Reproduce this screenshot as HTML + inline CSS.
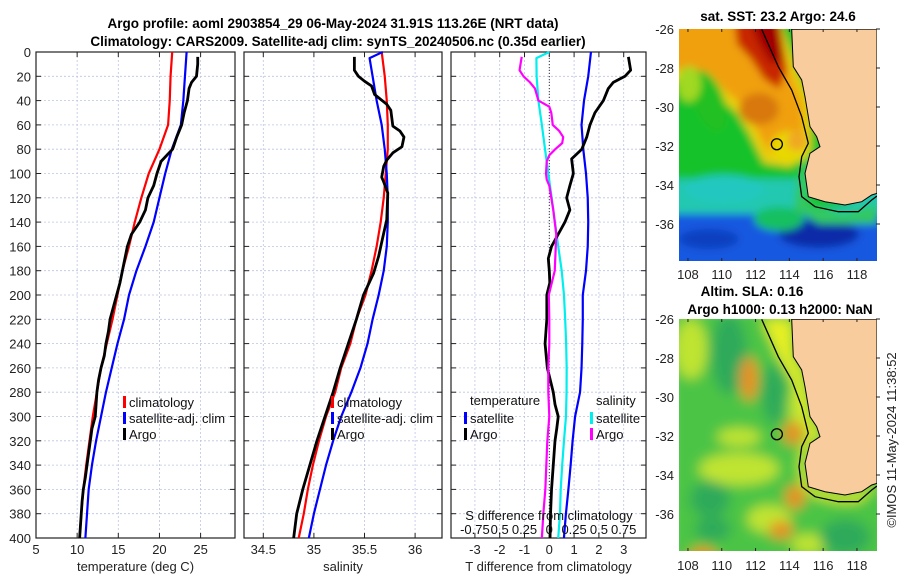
<!DOCTYPE html>
<html><head><meta charset="utf-8">
<style>
html,body{margin:0;padding:0;background:#fff;}
svg{display:block;font-family:"Liberation Sans",sans-serif;}
</style></head>
<body>
<svg id="chart" width="900" height="580" viewBox="0 0 900 580" xmlns="http://www.w3.org/2000/svg">
<defs>
  <filter id="blur4" x="-10%" y="-10%" width="120%" height="120%"><feGaussianBlur stdDeviation="4"/></filter>
  <filter id="blur6" x="-10%" y="-10%" width="120%" height="120%"><feGaussianBlur stdDeviation="6"/></filter>
  <clipPath id="clipMap1"><rect x="679" y="29" width="198" height="232"/></clipPath>
  <clipPath id="clipMap2"><rect x="679" y="319" width="198" height="232"/></clipPath>
</defs>
<g id="titles">
  <text x="333" y="28" text-anchor="middle" font-size="13.5" font-weight="bold" fill="#000">Argo profile: aoml 2903854_29 06-May-2024 31.91S 113.26E (NRT data)</text>
  <text x="338" y="46" text-anchor="middle" font-size="13.5" font-weight="bold" fill="#000">Climatology: CARS2009. Satellite-adj clim: synTS_20240506.nc (0.35d earlier)</text>
</g>
<g id="maps"></g>
<g id="panels"></g>
<text transform="translate(896,440) rotate(-90)" text-anchor="middle" font-size="13" fill="#222">©IMOS 11-May-2024 11:38:52</text>
</svg>
<script>
// ---------- data ----------
const stdDepth = [0,20,40,60,80,100,120,140,160,180,200,220,240,260,280,300,320,340,360,380,400];
const tempClim = [21.55,21.35,21.25,21.05,20.0,18.7,17.8,17.0,16.3,15.5,14.9,14.3,13.6,12.9,12.4,11.9,11.5,11.1,10.75,10.5,10.3];
const tempSat = [23.3,23.1,22.9,22.6,21.5,20.7,20.0,19.3,18.3,17.2,16.3,15.7,14.9,14.2,13.5,12.9,12.3,11.8,11.4,11.2,11.0];
const argoTDepth = [4,10,20,25,30,40,50,60,70,80,85,90,100,110,120,130,140,150,160,170,180,190,200,210,220,230,240,250,260,270,280,290,300,310,320,330,340,350,360,370,380,390,400];
const argoTemp = [24.65,24.65,24.5,23.9,23.6,23.4,23.0,22.7,22.1,21.6,20.9,20.2,19.7,19.3,18.6,18.3,17.6,16.6,16.1,15.8,15.5,15.2,14.8,14.4,14.0,13.8,13.5,13.3,12.9,12.6,12.4,12.3,12.2,11.8,11.6,11.4,11.2,11.0,10.75,10.6,10.5,10.4,10.3];
const salClim = [35.67,35.70,35.72,35.73,35.73,35.71,35.69,35.66,35.62,35.57,35.51,35.42,35.36,35.27,35.21,35.12,35.05,34.99,34.94,34.90,34.85];
const satDepth = [0,5,20,40,60,80,100,120,140,160,180,200,220,240,260,280,300,320,340,360,380,400];
const salSat = [35.68,35.55,35.58,35.62,35.67,35.70,35.72,35.73,35.73,35.72,35.69,35.64,35.58,35.53,35.46,35.37,35.27,35.19,35.12,35.06,35.00,34.95];
const argoSDepth = [4,15,20,24,28,35,43,48,61,65,70,78,83,89,94,103,107,116,138,149,168,182,200,220,240,260,280,300,320,340,360,380,400];
const argoSal = [35.40,35.40,35.44,35.50,35.57,35.60,35.72,35.76,35.78,35.85,35.89,35.87,35.78,35.72,35.69,35.67,35.69,35.73,35.72,35.69,35.64,35.59,35.49,35.42,35.34,35.26,35.19,35.11,35.03,34.96,34.89,34.83,34.80];
const dTSat = [1.68,1.57,1.40,1.30,1.37,1.48,1.55,1.57,1.55,1.48,1.35,1.35,1.33,1.30,1.24,1.04,0.94,0.86,0.77,0.67,0.59];
const dSSat = [0.0,-0.13,-0.128,-0.11,-0.075,-0.043,-0.01,0.024,0.057,0.09,0.125,0.148,0.16,0.17,0.175,0.174,0.168,0.148,0.13,0.115,0.108,0.09];
const dTArgoDepth = [4,15,20,25,30,40,50,60,70,80,88,100,110,120,130,140,150,160,170,180,190,200,220,240,260,280,290,300,310,320,340,360,380,400];
const dTArgo = [3.19,3.28,3.05,2.58,2.38,2.18,1.84,1.64,1.51,1.31,0.90,0.97,0.83,0.70,0.83,0.63,0.36,0.09,-0.04,0.0,0.02,-0.10,-0.10,-0.17,-0.08,0.16,0.23,0.36,0.30,0.23,0.16,0.09,0.05,0.03];
const dSArgoDepth = [4,15,20,25,30,40,45,50,60,65,70,75,80,85,90,100,105,110,130,150,160,180,200,220,240,260,280,300,320,340,360,380,400];
const dSArgo = [-0.278,-0.30,-0.26,-0.195,-0.145,-0.11,0.0,0.02,0.035,0.10,0.14,0.13,0.06,0.0,-0.026,-0.033,-0.026,0.0,0.04,0.07,0.065,0.055,-0.005,0.0,0.0,-0.01,-0.01,0.0,-0.02,-0.03,-0.04,-0.06,-0.075];
const depthTicks = [0,20,40,60,80,100,120,140,160,180,200,220,240,260,280,300,320,340,360,380,400];
const tempTicks = [5,10,15,20,25];
const salTicks = [34.5,35,35.5,36];
const salTickLabels = ["34.5","35","35.5","36"];
const dTTicks = [-3,-2,-1,0,1,2,3];
const dSTicks = [-0.75,-0.5,-0.25,0,0.25,0.5,0.75];
const dSTickLabels = ["-0.75","0.5","0.25","0","0.25","0.5","0.75"];
const lonTicks = [108,110,112,114,116,118];
const latTicks = [-26,-28,-30,-32,-34,-36];
const argoLon = 113.26, argoLat = -31.91;

// ---------- helpers ----------
const NS = "http://www.w3.org/2000/svg";
function mk(tag, attrs, parent){ const e=document.createElementNS(NS,tag); for(const k in attrs) e.setAttribute(k,attrs[k]); if(parent) parent.appendChild(e); return e; }
const Y0=52, Y1=538;
const yD = d => Y0 + (d/400)*(Y1-Y0);
const panelsG = document.getElementById('panels');

function panel(name, x0, x1, xScale, xTicks, xLabels, xTitle, showY){
  const g = mk('g',{},panelsG);
  
  
  xTicks.forEach(v=>{ const x=xScale(v);
    const l=mk('line',{x1:x,x2:x,y1:Y0,y2:Y1,stroke:'#bcc4e4','stroke-width':0.8,'stroke-dasharray':'2,2'},g);
     
    mk('line',{x1:x,x2:x,y1:Y0,y2:Y0+5,stroke:'#222','stroke-width':1},g);
    mk('line',{x1:x,x2:x,y1:Y1,y2:Y1-5,stroke:'#222','stroke-width':1},g);
  });
  depthTicks.forEach(d=>{ const y=yD(d);
    const l=mk('line',{x1:x0,x2:x1,y1:y,y2:y,stroke:'#bcc4e4','stroke-width':0.8,'stroke-dasharray':'2,2'},g);
     
    mk('line',{x1:x0,x2:x0+5,y1:y,y2:y,stroke:'#222','stroke-width':1},g);
    mk('line',{x1:x1,x2:x1-5,y1:y,y2:y,stroke:'#222','stroke-width':1},g);
    if(showY){ const t=mk('text',{x:x0-5,y:y+5,'text-anchor':'end','font-size':13,fill:'#222'},g); t.textContent=d;
        }
  });
  xTicks.forEach((v,i)=>{ const t=mk('text',{x:xScale(v),y:554,'text-anchor':'middle','font-size':13,fill:'#222'},g); t.textContent=xLabels[i];
      });
  const tt=mk('text',{x:(x0+x1)/2,y:571,'text-anchor':'middle','font-size':13,fill:'#222'},g); tt.textContent=xTitle;
   
  const fr=mk('rect',{x:x0,y:Y0,width:x1-x0,height:Y1-Y0,fill:'none',stroke:'#222','stroke-width':1.2},g);
   
  return g;
}
function line(g, name, depths, vals, xScale, color, w){
  const d = depths.map((dd,i)=>(i?'L':'M')+xScale(vals[i]).toFixed(2)+','+yD(dd).toFixed(2)).join(' ');
  const p = mk('path',{d:d,fill:'none',stroke:color,'stroke-width':w,'stroke-linejoin':'round'},g);
  
  
  return p;
}
function legendEntry(g, name, x, y, color, label){
  const grp = mk('g',{},g);
  
  
  mk('rect',{x:x,y:y-6,width:3,height:12,fill:color},grp);
  const t=mk('text',{x:x+6,y:y+5,'font-size':13,fill:'#111'},grp); t.textContent=label;
}

const xT = v => 36 + (v-5)*8.23;
const p1 = panel('temperature-panel', 36, 235, xT, tempTicks, tempTicks.map(String), 'temperature (deg C)', true);
line(p1,'temp-climatology-line',stdDepth,tempClim,xT,'#ff0000',2.2);
line(p1,'temp-satellite-clim-line',stdDepth,tempSat,xT,'#0000ff',2.2);
line(p1,'temp-argo-line',argoTDepth,argoTemp,xT,'#000000',2.8);
legendEntry(p1,'legend-climatology',123,402,'#ff0000','climatology');
legendEntry(p1,'legend-satellite-adj-clim',123,418,'#0000ff','satellite-adj. clim');
legendEntry(p1,'legend-argo',123,434,'#000000','Argo');

const xS = v => 263.3 + (v-34.5)*101.2;
const p2 = panel('salinity-panel', 244, 442, xS, salTicks, salTickLabels, 'salinity', false);
line(p2,'sal-climatology-line',stdDepth,salClim,xS,'#ff0000',2.2);
line(p2,'sal-satellite-clim-line',satDepth,salSat,xS,'#0000ff',2.2);
line(p2,'sal-argo-line',argoSDepth,argoSal,xS,'#000000',2.8);
legendEntry(p2,'legend-climatology',331,402,'#ff0000','climatology');
legendEntry(p2,'legend-satellite-adj-clim',331,418,'#0000ff','satellite-adj. clim');
legendEntry(p2,'legend-argo',331,434,'#000000','Argo');

const xDT = v => 549.3 + v*24.8;
const xDS = v => 549.3 + v*99.2;
const p3 = panel('difference-panel', 451, 646, xDT, dTTicks, dTTicks.map(String), 'T difference from climatology', false);
const zl = mk('line',{x1:xDT(0),x2:xDT(0),y1:Y0,y2:Y1,stroke:'#333','stroke-width':1,'stroke-dasharray':'1,2'},p3);
 
line(p3,'dT-satellite-line',stdDepth,dTSat,xDT,'#0000ff',2.2);
line(p3,'dS-satellite-line',satDepth,dSSat,xDS,'#00eeee',2.2);
line(p3,'dT-argo-line',dTArgoDepth,dTArgo,xDT,'#000000',2.8);
line(p3,'dS-argo-line',dSArgoDepth,dSArgo,xDS,'#ff00ff',2.2);
(function(){
  let t=mk('text',{x:470,y:405,'font-size':13,fill:'#111'},p3); t.textContent='temperature';
   
  t=mk('text',{x:596,y:405,'font-size':13,fill:'#111'},p3); t.textContent='salinity';
   
})();
legendEntry(p3,'legend-t-satellite',464,418,'#0000ff','satellite');
legendEntry(p3,'legend-t-argo',464,434,'#000000','Argo');
legendEntry(p3,'legend-s-satellite',590,418,'#00eeee','satellite');
legendEntry(p3,'legend-s-argo',590,434,'#ff00ff','Argo');
(function(){
  const t=mk('text',{x:549,y:520,'text-anchor':'middle','font-size':13,fill:'#111'},p3); t.textContent='S difference from climatology';
   
  dSTicks.forEach((v,i)=>{ const tl=mk('text',{x:xDS(v),y:534,'text-anchor':'middle','font-size':13,fill:'#111'},p3); tl.textContent=dSTickLabels[i];
      });
})();

// ---------- maps ----------
const mapsG = document.getElementById('maps');
const lonX = lon => 679 + (lon-107.47)*16.9;
const latY = (lat, top) => top + (-26-lat)*19.5;
const coast = [[112.7,0.3],[114.3,37.7],[122.7,51],[126,67.7],[131,97.7],[137.7,107.7],[141,117.7],[131,124.3],[126,144.3],[129.3,167.7],[146,172.7],[166,176],[182.7,172.7],[192.7,166],[198,164.3]];
const contour = [[82.7,0.3],[99.3,37.7],[112.7,61],[122.7,87.7],[129.3,114.3],[122.7,127.7],[120,147.7],[122.7,167.7],[136,177.7],[159.3,182.7],[179.3,182.7],[192.7,171],[198,167]];
function pts(arr, ox, oy){ return arr.map(p=>(p[0]+ox).toFixed(1)+','+(p[1]+oy).toFixed(1)).join(' '); }

function map(name, top, clip, painter, title1, lonLabelY){
  const g = mk('g',{},mapsG);
  
  
  const inner = mk('g',{'clip-path':'url(#'+clip+')'},g);
  painter(inner, 679, top);
  mk('polygon',{points:pts(coast.concat([[198,0],[198,0]]),679,top),fill:'#f9cc9d',stroke:'#000','stroke-width':1},inner);
  mk('polyline',{points:pts(contour,679,top),fill:'none',stroke:'#000','stroke-width':1.3},inner);
  const c = mk('circle',{cx:lonX(argoLon),cy:latY(argoLat,top),r:5.5,fill:'none',stroke:'#000','stroke-width':1.3},g);
  
  
  lonTicks.forEach(v=>{ const x=lonX(v);
    mk('line',{x1:x,x2:x,y1:top,y2:top+3,stroke:'#222'},g);
    mk('line',{x1:x,x2:x,y1:top+232,y2:top+229,stroke:'#222'},g);
    const t=mk('text',{x:x,y:lonLabelY,'text-anchor':'middle','font-size':13,fill:'#222'},g); t.textContent=v;
      });
  latTicks.forEach(v=>{ const y=latY(v,top);
    mk('line',{x1:876,x2:880,y1:y,y2:y,stroke:'#222'},g);
    const t=mk('text',{x:674,y:y+5,'text-anchor':'end','font-size':13,fill:'#222'},g); t.textContent=v;
      });
  title1.forEach(tt=>{ const t=mk('text',{x:tt[0],y:tt[1],'text-anchor':'middle','font-size':13.5,'font-weight':'bold',fill:'#000'},g); t.textContent=tt[2];
      });
}
function sstPainter(g, ox, oy){
  const b = mk('g',{filter:'url(#blur4)',transform:'translate('+ox+','+oy+')'},g);
  mk('rect',{x:-10,y:-10,width:220,height:260,fill:'#12c22a'},b);
  mk('rect',{x:-10,y:150,width:220,height:40,fill:'#20c8b0'},b);
  mk('rect',{x:-10,y:185,width:220,height:60,fill:'#1858e0'},b);
  mk('ellipse',{cx:140,cy:205,rx:40,ry:14,fill:'#0a2aa8'},b);
  mk('ellipse',{cx:30,cy:210,rx:30,ry:10,fill:'#0c40c0'},b);
  mk('ellipse',{cx:45,cy:160,rx:40,ry:14,fill:'#20c8c0'},b);
  mk('ellipse',{cx:100,cy:190,rx:25,ry:12,fill:'#18c060'},b);
  mk('ellipse',{cx:150,cy:170,rx:25,ry:8,fill:'#12c22a'},b);
  mk('polygon',{points:'-10,-10 100,-10 118,40 132,75 132,115 112,138 85,134 70,104 58,84 42,70 25,52 -10,52',fill:'#e8d010'},b);
  mk('polygon',{points:'-10,-10 95,-10 110,40 124,75 124,110 106,128 90,124 76,98 64,76 46,62 30,44 -10,40',fill:'#f0a010'},b);
  mk('ellipse',{cx:30,cy:72,rx:15,ry:32,fill:'#20c020',transform:'rotate(-20 30 72)'},b);
  mk('ellipse',{cx:10,cy:55,rx:12,ry:18,fill:'#a0d820'},b);
  mk('ellipse',{cx:80,cy:80,rx:20,ry:16,fill:'#d87810'},b);
  mk('polygon',{points:'55,-10 100,-10 108,40 100,60 85,50 72,30 58,15',fill:'#c82800'},b);
  mk('polygon',{points:'70,-10 98,-10 104,30 92,35 80,15',fill:'#a00000'},b);
  mk('ellipse',{cx:112,cy:118,rx:20,ry:16,fill:'#e8d800'},b);
  mk('ellipse',{cx:118,cy:112,rx:10,ry:10,fill:'#f0a820'},b);
  mk('polygon',{points:'120,140 140,120 135,150 130,175 165,185 198,175 198,195 140,195 115,180',fill:'#30c860'},b);
}
function slaPainter(g, ox, oy){
  const b = mk('g',{filter:'url(#blur6)',transform:'translate('+ox+','+oy+')'},g);
  mk('rect',{x:-10,y:-10,width:220,height:260,fill:'#4cc444'},b);
  [[12,30,16,30],[60,150,40,16],[90,200,22,14],[130,225,18,10],[120,90,10,25],[60,118,22,9]].forEach(e=>mk('ellipse',{cx:e[0],cy:e[1],rx:e[2],ry:e[3],fill:'#c0e430'},b));
  [[50,35,18,40],[31,180,20,18],[34,210,18,12],[166,218,25,18],[95,75,12,30]].forEach(e=>mk('ellipse',{cx:e[0],cy:e[1],rx:e[2],ry:e[3],fill:'#2eaa5a'},b));
  [[70,60,9,22],[114,114,10,12],[102,211,12,9],[116,178,10,12],[24,238,14,10]].forEach(e=>mk('ellipse',{cx:e[0],cy:e[1],rx:e[2],ry:e[3],fill:'#e89020'},b));
  mk('polygon',{points:pts(contour.concat(coast.slice().reverse()),0,0),fill:'#e8f020'},b);
}
map('sst-map', 29, 'clipMap1', sstPainter, [[778,21,'sat. SST: 23.2 Argo: 24.6']], 279);
map('sla-map', 319, 'clipMap2', slaPainter, [[752,296,'Altim. SLA: 0.16'],[780,314,'Argo h1000: 0.13 h2000: NaN']], 570);
</script>
</body></html>
